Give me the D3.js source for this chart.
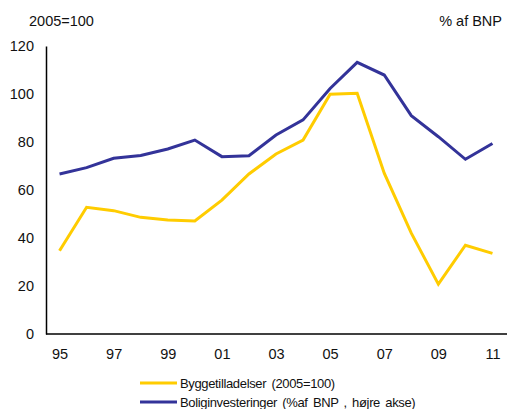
<!DOCTYPE html>
<html>
<head>
<meta charset="utf-8">
<script src="https://cdn.jsdelivr.net/npm/d3@7/dist/d3.min.js"></script>
<style>
  html, body { margin: 0; padding: 0; background: #fff; }
  svg { display: block; font-family: "Liberation Sans", Arial, sans-serif; }
</style>
</head>
<body>
<svg id="chart" width="507" height="409"></svg>
<script>
// Years (two-digit labels) on the x axis
const years = ["95","96","97","98","99","00","01","02","03","04","05","06","07","08","09","10","11"];
const tickYears = ["95","97","99","01","03","05","07","09","11"];
// Building permits, index 2005=100
const permits = [34.7, 52.8, 51.4, 48.6, 47.5, 47.1, 55.8, 66.7, 75.0, 80.8, 99.9, 100.3, 67.0, 42.0, 20.8, 37.0, 33.6];
// Housing investment, drawn against the right-hand axis
const investment = [66.7, 69.3, 73.2, 74.4, 77.1, 80.8, 73.9, 74.3, 82.9, 89.2, 102.3, 113.2, 107.9, 91.0, 82.2, 72.8, 79.4];
const yTicks = [0, 20, 40, 60, 80, 100, 120];

const seriesNames = ["Byggetilladelser (2005=100)", "Boliginvesteringer (%af BNP , højre akse)"];
const colors = ["#FFCC00", "#333399"];

const svg = d3.select("#chart");
const plotLeft = 46, plotRight = 506, plotTop = 46, plotBottom = 334;

const x = d3.scalePoint().domain(years).range([plotLeft, plotRight]).padding(0.5);
const y = d3.scaleLinear().domain([0, 120]).range([plotBottom, plotTop]);

// Axes
const yAxis = svg.append("g").attr("transform", `translate(${plotLeft},0)`)
  .call(d3.axisLeft(y).tickValues(yTicks).tickSize(0).tickPadding(12).tickSizeOuter(0));
yAxis.select(".domain").attr("stroke", "#000").attr("stroke-width", 1.5);
yAxis.selectAll("text").attr("font-size", 14.5).attr("fill", "#111").attr("font-family", "Liberation Sans, Arial, sans-serif");

const xAxis = svg.append("g").attr("transform", `translate(0,${plotBottom})`)
  .call(d3.axisBottom(x).tickValues(tickYears).tickSize(0).tickPadding(15).tickSizeOuter(0));
xAxis.select(".domain").attr("d", `M${plotLeft},0H507`).attr("stroke", "#000").attr("stroke-width", 1.5);
xAxis.selectAll("text").attr("font-size", 14.5).attr("fill", "#111").attr("font-family", "Liberation Sans, Arial, sans-serif");

// Axis titles
svg.append("text").attr("x", 29).attr("y", 26).attr("font-size", 14.5).attr("fill", "#111").text("2005=100");
svg.append("text").attr("x", 502).attr("y", 26).attr("text-anchor", "end").attr("font-size", 14.5).attr("fill", "#111").text("% af BNP");

// Lines
const line = d3.line().x((d, i) => x(years[i])).y(d => y(d));
[investment, permits].forEach((vals, k) => {
  svg.append("path").datum(vals)
    .attr("fill", "none")
    .attr("stroke", k === 0 ? colors[1] : colors[0])
    .attr("stroke-width", 3)
    .attr("stroke-linejoin", "miter")
    .attr("d", line);
});

// Legend
const legend = svg.append("g");
seriesNames.forEach((name, i) => {
  const ly = 383 + i * 19;
  legend.append("line").attr("x1", 140).attr("x2", 177).attr("y1", ly).attr("y2", ly)
    .attr("stroke", colors[i]).attr("stroke-width", 3);
  legend.append("text").attr("x", 180).attr("y", ly + 4.5)
    .attr("font-size", 13).attr("letter-spacing", -0.35).attr("word-spacing", 2)
    .attr("fill", "#111").text(name);
});
</script>
</body>
</html>
